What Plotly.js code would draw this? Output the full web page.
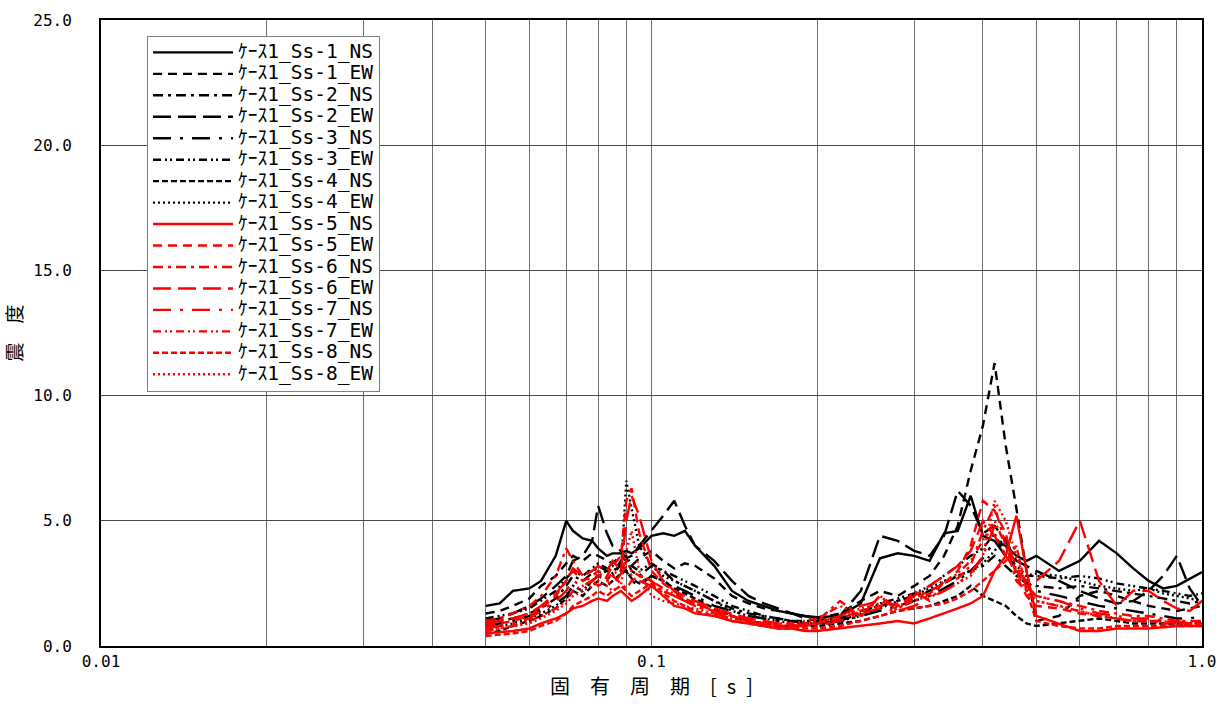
<!DOCTYPE html>
<html>
<head>
<meta charset="utf-8">
<script src="https://cdn.plot.ly/plotly-3.0.1.min.js"></script>
<style>
html,body{margin:0;padding:0;background:#fff;}
#chart{width:1221px;height:707px;}
</style>
</head>
<body>
<div id="chart"></div>
<script>
// Period grid [s]
const periods = [0.05,0.053,0.056,0.06,0.063,0.067,0.07,0.072,0.075,0.078,0.08,0.083,0.085,0.088,0.09,0.092,0.095,0.1,0.105,0.11,0.115,0.12,0.13,0.14,0.15,0.16,0.17,0.18,0.19,0.2,0.22,0.24,0.26,0.28,0.3,0.32,0.34,0.36,0.38,0.4,0.42,0.44,0.46,0.48,0.5,0.55,0.6,0.65,0.7,0.75,0.8,0.85,0.9,0.95,1.0];

const seriesNames = ["ｹｰｽ1_Ss-1_NS","ｹｰｽ1_Ss-1_EW","ｹｰｽ1_Ss-2_NS","ｹｰｽ1_Ss-2_EW","ｹｰｽ1_Ss-3_NS","ｹｰｽ1_Ss-3_EW","ｹｰｽ1_Ss-4_NS","ｹｰｽ1_Ss-4_EW","ｹｰｽ1_Ss-5_NS","ｹｰｽ1_Ss-5_EW","ｹｰｽ1_Ss-6_NS","ｹｰｽ1_Ss-6_EW","ｹｰｽ1_Ss-7_NS","ｹｰｽ1_Ss-7_EW","ｹｰｽ1_Ss-8_NS","ｹｰｽ1_Ss-8_EW"];

const ss1NS = [1.6,1.7,2.2,2.3,2.6,3.6,5.0,4.6,4.3,4.2,3.9,3.6,3.7,3.7,3.8,3.7,3.9,4.4,4.5,4.4,4.6,4.0,3.2,2.2,1.8,1.6,1.4,1.3,1.2,1.15,1.2,1.7,3.5,3.7,3.6,3.4,4.5,4.6,6.0,4.4,4.2,4.0,3.6,3.4,3.6,3.0,3.4,4.2,3.7,3.1,2.6,2.3,2.4,2.7,2.95];
const ss1EW = [1.3,1.4,1.6,1.9,2.4,2.8,3.3,3.6,3.4,3.7,3.6,3.4,3.3,3.6,3.4,3.2,3.5,3.8,3.4,3.1,3.3,3.2,2.7,2.0,1.7,1.5,1.4,1.3,1.2,1.1,1.3,1.8,2.2,2.0,2.4,2.8,3.6,4.8,7.0,8.8,11.3,8.0,5.5,3.0,1.0,1.2,2.0,2.2,2.0,1.8,1.6,1.5,1.4,1.5,1.6];
const ss2NS = [0.9,1.0,1.1,1.3,1.5,1.9,2.4,2.8,2.6,2.9,3.2,3.0,2.8,3.3,3.5,3.0,2.8,3.2,3.0,2.6,2.4,2.2,1.8,1.5,1.3,1.2,1.1,1.0,1.0,1.0,1.1,1.4,1.6,1.8,2.0,2.2,2.5,2.8,3.0,3.2,3.6,3.2,2.8,2.5,2.4,2.3,2.4,2.3,2.2,2.1,2.0,1.9,1.8,1.7,1.8];
const ss2EW = [1.0,1.1,1.3,1.6,1.9,2.4,2.8,3.4,3.6,4.2,5.6,4.5,4.0,3.8,3.5,3.6,4.0,4.6,5.2,5.8,4.8,4.0,3.4,2.6,2.0,1.7,1.5,1.3,1.1,1.0,1.2,2.2,4.4,4.2,3.8,3.6,4.4,6.2,5.6,4.5,4.8,4.2,3.4,3.2,3.0,2.6,2.2,1.9,1.7,1.8,2.2,2.8,3.6,2.3,1.6];
const ss3NS = [0.8,0.9,1.0,1.2,1.4,1.7,2.0,2.4,2.2,2.6,2.8,2.6,3.0,3.2,3.0,2.6,2.4,2.8,2.6,2.4,2.2,2.0,1.6,1.4,1.2,1.1,1.0,1.0,0.9,0.9,1.0,1.2,1.4,1.6,1.8,2.0,2.3,2.6,3.0,3.5,4.2,3.6,3.0,2.6,2.2,2.0,1.8,1.6,1.5,1.4,1.3,1.2,1.1,1.1,1.2];
const ss3EW = [1.1,1.2,1.3,1.5,1.8,2.2,2.7,3.0,2.8,3.1,3.3,3.1,2.9,3.4,3.6,3.2,3.0,3.3,3.0,2.8,2.6,2.4,2.0,1.6,1.4,1.2,1.1,1.0,0.9,0.9,1.0,1.3,1.7,1.9,2.1,2.4,2.8,3.2,3.6,3.9,4.5,3.6,3.2,2.8,2.8,2.7,2.8,2.7,2.5,2.4,2.3,2.2,2.1,2.0,2.1];
const ss4NS = [0.5,0.6,0.8,1.0,1.2,1.5,1.9,2.2,2.0,2.4,2.6,2.4,2.6,2.9,3.0,2.7,2.5,2.8,2.6,2.3,2.1,1.9,1.5,1.2,1.0,0.9,0.8,0.8,0.8,0.8,0.9,1.0,1.2,1.4,1.5,1.6,1.8,2.0,2.4,2.0,1.8,1.6,1.2,0.9,0.8,0.9,1.0,1.1,1.0,0.9,0.9,0.9,0.9,0.9,1.0];
const ss4EW = [0.7,0.8,0.9,1.1,1.3,1.6,2.0,2.4,2.2,2.6,2.8,3.0,3.2,3.0,6.6,5.5,4.0,3.2,2.8,2.6,2.4,2.2,1.8,1.4,1.2,1.1,1.0,0.9,0.9,0.9,1.0,1.2,1.5,1.8,2.0,2.3,2.6,2.8,3.0,3.3,3.8,4.4,3.0,2.8,2.9,2.8,2.6,2.4,2.3,2.2,2.3,2.1,2.0,1.9,1.8];
const ss5NS = [0.5,0.55,0.6,0.7,0.9,1.1,1.3,1.5,1.6,1.8,1.9,1.8,2.0,2.2,2.0,1.8,2.0,2.4,2.0,1.6,1.5,1.3,1.2,1.0,0.9,0.8,0.7,0.7,0.6,0.6,0.7,0.8,0.9,1.0,0.9,1.1,1.3,1.5,1.7,2.0,3.0,3.6,5.2,3.0,1.2,0.9,0.6,0.6,0.7,0.7,0.7,0.75,0.8,0.8,0.8];
const ss5EW = [0.8,0.9,1.0,1.2,1.5,2.0,2.6,3.0,2.6,2.8,3.0,2.8,3.2,3.6,5.8,6.3,4.5,3.0,2.5,2.2,1.9,1.7,1.4,1.2,1.0,0.9,0.8,0.8,0.8,0.9,1.1,1.4,1.6,1.7,1.9,2.2,2.5,3.0,4.0,5.8,5.4,4.5,2.8,2.0,1.6,1.5,1.3,1.2,1.1,1.0,1.0,1.0,0.9,0.9,0.9];
const ss6NS = [1.0,1.1,1.3,1.6,2.0,2.8,3.9,3.4,2.8,2.6,2.4,2.6,2.8,2.5,2.3,2.6,2.8,2.6,2.2,2.0,1.8,1.6,1.4,1.2,1.0,0.9,0.8,0.8,0.9,1.0,1.8,1.2,2.0,1.4,2.2,1.8,2.6,2.7,3.2,4.6,5.6,4.0,2.6,2.2,2.0,1.8,1.6,1.4,1.3,1.2,1.2,1.1,1.0,1.0,1.0];
const ss6EW = [0.9,1.0,1.1,1.3,1.6,2.1,2.6,3.1,2.8,3.0,3.2,3.0,3.4,3.0,5.0,6.0,5.2,3.4,2.6,2.2,2.0,1.8,1.5,1.3,1.1,1.0,0.9,0.8,0.8,0.9,1.2,1.6,1.8,1.6,2.0,2.4,2.8,3.2,3.8,5.0,4.4,3.6,3.0,2.6,2.6,3.4,5.0,2.6,1.6,2.2,2.2,1.8,1.5,1.4,1.8];
const ss7NS = [0.7,0.8,0.9,1.1,1.4,1.8,2.2,2.6,2.4,2.6,2.8,2.6,2.4,2.9,3.2,2.8,2.6,2.4,2.2,2.0,1.8,1.6,1.3,1.1,1.0,0.9,0.8,0.8,0.8,0.8,1.0,1.3,1.5,1.4,1.6,1.9,2.2,2.5,2.9,3.6,4.8,4.2,3.2,2.4,2.0,1.8,1.5,1.3,1.2,1.1,1.1,1.0,1.0,0.9,0.9];
const ss7EW = [0.6,0.7,0.8,1.0,1.2,1.5,1.8,2.2,2.4,2.6,2.9,2.7,2.9,3.0,3.4,3.0,2.8,2.6,2.3,2.1,1.9,1.7,1.4,1.2,1.0,0.9,0.9,0.9,1.0,1.1,1.6,1.2,2.0,1.5,1.8,2.1,2.5,2.9,3.4,4.2,5.0,4.0,3.0,2.2,1.8,1.6,1.4,1.2,1.1,1.0,1.0,0.9,0.9,0.9,0.9];
const ss8NS = [0.4,0.45,0.5,0.6,0.8,1.0,1.3,1.6,1.8,2.0,2.2,2.0,2.2,2.4,2.2,2.0,2.2,2.5,2.1,1.8,1.6,1.4,1.2,1.0,0.9,0.8,0.7,0.7,0.7,0.7,0.8,1.0,1.2,1.4,1.5,1.6,1.7,1.9,2.2,2.6,3.0,3.4,4.0,2.2,1.0,0.8,0.7,0.7,0.8,0.8,0.8,0.8,0.8,0.8,0.8];
const ss8EW = [0.6,0.7,0.8,0.9,1.1,1.4,1.7,2.0,2.2,2.4,2.6,2.4,2.2,2.4,3.8,4.6,3.0,2.0,1.8,1.7,1.6,1.5,1.3,1.1,1.0,0.9,0.8,0.8,0.9,1.0,1.2,1.5,1.7,1.6,1.8,2.0,2.2,2.5,2.8,3.6,5.8,5.0,3.6,2.4,1.8,1.6,1.4,1.2,1.1,1.0,1.0,1.0,0.9,0.9,0.9];

const xTickVals = [0.01,0.02,0.03,0.04,0.05,0.06,0.07,0.08,0.09,0.1,0.2,0.3,0.4,0.5,0.6,0.7,0.8,0.9,1.0];
const xTickText = ["0.01","","","","","","","","","0.1","","","","","","","","","1.0"];

const allSeries = [ss1NS,ss1EW,ss2NS,ss2EW,ss3NS,ss3EW,ss4NS,ss4EW,ss5NS,ss5EW,ss6NS,ss6EW,ss7NS,ss7EW,ss8NS,ss8EW];
const dashes = ["solid","9px,6px","10px,5px,3px,5px","18px,7px","18px,9px,3px,9px","8px,4px,2px,3px,2px,4px","6px,3px","2px,3px"];
const colors = ["#000000","#ff0000"];

const traces = allSeries.map((ys, i) => ({
  type: "scatter",
  mode: "lines",
  name: '<span style="font-size:19.5px;font-family:\'DejaVu Sans Mono\',\'Noto Sans CJK JP\',monospace">' + seriesNames[i] + '</span>',
  x: periods,
  y: ys,
  line: {color: colors[Math.floor(i/8)], width: 2.4, dash: dashes[i%8]},
  hoverinfo: "skip"
}));

const tickFont = {family: "DejaVu Sans Mono, monospace", size: 16, color: "#000"};

const layout = {
  width: 1221, height: 707,
  margin: {l: 101, r: 19, t: 20, b: 61},
  paper_bgcolor: "#fff", plot_bgcolor: "#fff",
  showlegend: true,
  legend: {
    x: 0.0418, y: 0.975, xanchor: "left", yanchor: "top",
    bgcolor: "#fff", bordercolor: "#808080", borderwidth: 1,
    font: {family: "DejaVu Sans Mono, Noto Sans CJK JP, monospace", size: 14.2, color: "#000"},
    itemwidth: 80, tracegroupgap: 0
  },
  xaxis: {
    type: "log", range: [-2, 0],
    tickmode: "array", tickvals: xTickVals, ticktext: xTickText,
    showgrid: true, gridcolor: "#6e6e6e", gridwidth: 1,
    showline: true, linecolor: "#000", linewidth: 2, mirror: true,
    ticks: "", tickfont: tickFont, zeroline: false,
    title: {text: "固\u3000有\u3000周\u3000期\u3000[\u2002s\u2002]", font: {family: "Noto Sans CJK JP, sans-serif", size: 20, color: "#000"}, standoff: 10}
  },
  yaxis: {
    range: [0, 25], dtick: 5, tick0: 0, tickformat: ".1f",
    showgrid: true, gridcolor: "#4a4a4a", gridwidth: 1,
    showline: true, linecolor: "#000", linewidth: 2, mirror: true,
    ticks: "", tickfont: tickFont, zeroline: false,
    ticklabelstandoff: 24,
    title: {text: "震\u3000度", font: {family: "Noto Sans CJK JP, sans-serif", size: 19, color: "#000"}, standoff: 20}
  }
};

Plotly.newPlot("chart", traces, layout, {staticPlot: true, displayModeBar: false});
</script>
</body>
</html>
